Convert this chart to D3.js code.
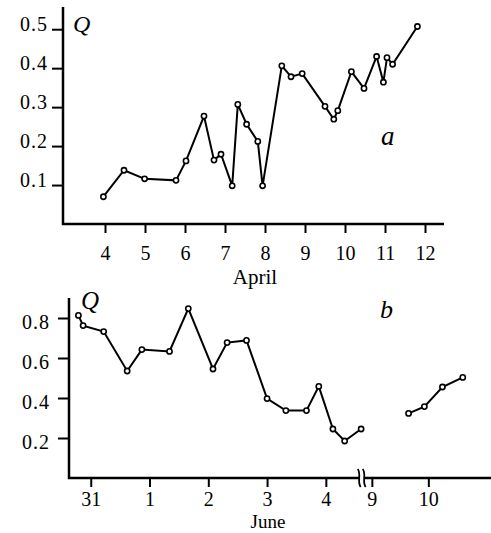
<!DOCTYPE html>
<html>
<head>
<meta charset="utf-8">
<script src="https://cdn.jsdelivr.net/npm/d3@7/dist/d3.min.js"></script>
<style>
  body { margin: 0; background: #fff; }
  svg { display: block; }
  text { font-family: "Liberation Serif", "DejaVu Serif", serif; fill: #000; }
</style>
</head>
<body>
<svg id="chart" width="491" height="533"></svg>
<script>
// panel a: April, day of month vs Q
const aDays = [3.96, 4.475, 4.99, 5.775, 6.025, 6.475, 6.725, 6.9, 7.18, 7.32, 7.54, 7.82, 7.94,
  8.42, 8.65, 8.93, 9.5, 9.72, 9.82, 10.16, 10.475, 10.79, 10.96, 11.05, 11.19, 11.81];
const aQ = [0.070, 0.138, 0.116, 0.112, 0.162, 0.277, 0.164, 0.179, 0.098, 0.307, 0.256, 0.212, 0.098,
  0.406, 0.378, 0.386, 0.302, 0.269, 0.291, 0.391, 0.348, 0.430, 0.364, 0.427, 0.410, 0.507];
const aTicks = [4, 5, 6, 7, 8, 9, 10, 11, 12];
const aYTicks = [0.1, 0.2, 0.3, 0.4, 0.5];

// panel b: days counted from 31 May (31 May = 0, 1 June = 1 ...)
const bDays1 = [-0.21, -0.13, 0.22, 0.62, 0.87, 1.34, 1.66, 2.08, 2.32, 2.65, 3.0, 3.32, 3.67, 3.88, 4.12, 4.32, 4.6];
const bQ1 = [0.813, 0.762, 0.732, 0.535, 0.642, 0.633, 0.847, 0.545, 0.677, 0.688, 0.397, 0.337, 0.337, 0.458, 0.245, 0.185, 0.245];
const bDays2 = [9.65, 9.93, 10.25, 10.61];
const bQ2 = [0.323, 0.357, 0.455, 0.503];
const bTicks = [0, 1, 2, 3, 4, 9, 10];
const bTickLabels = ["31", "1", "2", "3", "4", "9", "10"];
const bYTicks = [0.2, 0.4, 0.6, 0.8];

const serif = '"Liberation Serif", "DejaVu Serif", serif';
const svg = d3.select("#chart");

function styleAxis(g, size) {
  g.attr("font-family", null).attr("font-size", null);
  g.select(".domain").remove();
  g.selectAll(".tick line").attr("stroke", "#000").attr("stroke-width", 2);
  g.selectAll(".tick text")
    .style("font-family", serif)
    .style("font-size", size + "px")
    .attr("fill", "#000");
}

function drawSeries(x, y, xs, ys) {
  const pts = xs.map((d, i) => [d, ys[i]]);
  svg.append("path")
    .datum(pts)
    .attr("fill", "none")
    .attr("stroke", "#000")
    .attr("stroke-width", 2)
    .attr("d", d3.line().x(d => x(d[0])).y(d => y(d[1])));
  svg.append("g").selectAll("circle").data(pts).join("circle")
    .attr("cx", d => x(d[0]))
    .attr("cy", d => y(d[1]))
    .attr("r", 2.6)
    .attr("fill", "#fff")
    .attr("stroke", "#000")
    .attr("stroke-width", 1.6);
}

// ---------- panel a ----------
const xa = d3.scaleLinear().domain([2.95, 12.475]).range([63, 444]);
const ya = d3.scaleLinear().domain([0, 0.557]).range([224, 7]);

svg.append("g")
  .attr("transform", "translate(0,224)")
  .call(d3.axisBottom(xa).tickValues(aTicks).tickSize(9).tickPadding(13).tickSizeOuter(0))
  .call(g => styleAxis(g, 20));

svg.append("g")
  .attr("transform", "translate(63,0)")
  .call(d3.axisLeft(ya).tickValues(aYTicks).tickSize(11).tickPadding(4).tickSizeOuter(0).tickFormat(d3.format(".1f")))
  .call(g => styleAxis(g, 20))
  .call(g => g.selectAll(".tick text").attr("dy", "0.05em").attr("letter-spacing", 1));

svg.append("path")
  .attr("d", `M${xa.range()[1]},${ya(0)}H63V${ya.range()[1]}`)
  .attr("fill", "none").attr("stroke", "#000").attr("stroke-width", 2.5);

drawSeries(xa, ya, aDays, aQ);

svg.append("text").attr("x", 73).attr("y", 32).attr("font-size", 24).attr("font-style", "italic").text("Q");
svg.append("text").attr("x", 381).attr("y", 145).attr("font-size", 27).attr("font-style", "italic").text("a");
svg.append("text").attr("x", 255).attr("y", 284).attr("font-size", 21).attr("text-anchor", "middle").text("April");

// ---------- panel b ----------
const breakX = 361.7;
const xb = d3.scaleLinear().domain([-0.37, 4.61, 8.82, 11.11]).range([69, breakX, breakX, 491]);
const yb = d3.scaleLinear().domain([0, 0.9]).range([478, 298]);

svg.append("g")
  .attr("transform", "translate(0,478)")
  .call(d3.axisBottom(xb).tickValues(bTicks).tickSize(9).tickPadding(5).tickSizeOuter(0)
    .tickFormat((d, i) => bTickLabels[i]))
  .call(g => styleAxis(g, 20));

svg.append("g")
  .attr("transform", "translate(69,0)")
  .call(d3.axisLeft(yb).tickValues(bYTicks).tickSize(11).tickPadding(8).tickSizeOuter(0).tickFormat(d3.format(".1f")))
  .call(g => styleAxis(g, 20))
  .call(g => g.selectAll(".tick text").attr("dy", "0.5em").attr("letter-spacing", 1));

svg.append("path")
  .attr("d", `M491,${yb(0)}H69V${yb.range()[1]}`)
  .attr("fill", "none").attr("stroke", "#000").attr("stroke-width", 2.5);

// axis break mark
const brk = svg.append("g").attr("transform", `translate(${breakX},${yb(0)})`);
brk.append("rect").attr("x", -2.5).attr("y", -3).attr("width", 5).attr("height", 6).attr("fill", "#fff");
[-2.5, 2.5].forEach(dx => {
  brk.append("path")
    .attr("d", `M${dx - 1.5},-9 C${dx + 2.5},-4 ${dx - 2.5},4 ${dx + 1.5},9`)
    .attr("fill", "none").attr("stroke", "#000").attr("stroke-width", 1.8);
});

drawSeries(xb, yb, bDays1, bQ1);
drawSeries(xb, yb, bDays2, bQ2);

svg.append("text").attr("x", 81).attr("y", 309).attr("font-size", 25).attr("font-style", "italic").text("Q");
svg.append("text").attr("x", 380).attr("y", 318).attr("font-size", 26).attr("font-style", "italic").text("b");
svg.append("text").attr("x", 268).attr("y", 528).attr("font-size", 19).attr("text-anchor", "middle").text("June");
</script>
</body>
</html>
